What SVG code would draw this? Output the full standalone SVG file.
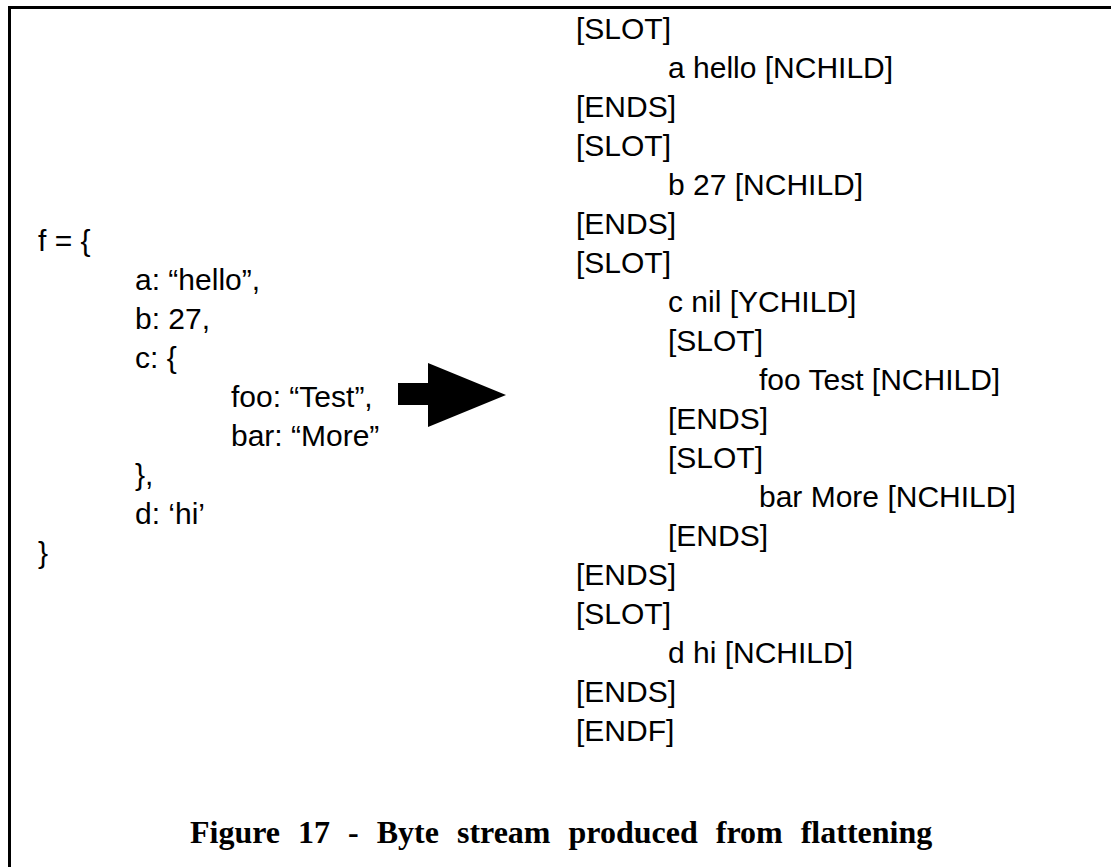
<svg xmlns="http://www.w3.org/2000/svg" width="1111" height="867" viewBox="0 0 1111 867">
  <style>
    .code { font-family: "Liberation Sans", Arial, sans-serif; font-size: 30px; fill: #000; }
    .cap { font-family: "Liberation Serif", "Times New Roman", serif; font-size: 32px; font-weight: bold; fill: #000; word-spacing: 10px; }
  </style>
  <rect id="frame" x="9.5" y="7.5" width="1130" height="890" fill="#fff" stroke="#000" stroke-width="3"/>
  <g id="source" class="code">
    <text x="38" y="251">f = {</text>
    <text x="135" y="290">a: “hello”,</text>
    <text x="135" y="329">b: 27,</text>
    <text x="135" y="368">c: {</text>
    <text x="231" y="407">foo: “Test”,</text>
    <text x="231" y="446">bar: “More”</text>
    <text x="135" y="485">},</text>
    <text x="135" y="524">d: ‘hi’</text>
    <text x="38" y="563">}</text>
  </g>
  <g id="connectors">
    <polygon points="398,383 428,383 428,363 506,395 428,427 428,405 398,405" fill="#000"/>
  </g>
  <g id="stream" class="code">
    <text x="576" y="39">[SLOT]</text>
    <text x="668" y="78">a hello [NCHILD]</text>
    <text x="576" y="117">[ENDS]</text>
    <text x="576" y="156">[SLOT]</text>
    <text x="668" y="195">b 27 [NCHILD]</text>
    <text x="576" y="234">[ENDS]</text>
    <text x="576" y="273">[SLOT]</text>
    <text x="668" y="312">c nil [YCHILD]</text>
    <text x="668" y="351">[SLOT]</text>
    <text x="759" y="390">foo Test [NCHILD]</text>
    <text x="668" y="429">[ENDS]</text>
    <text x="668" y="468">[SLOT]</text>
    <text x="759" y="507">bar More [NCHILD]</text>
    <text x="668" y="546">[ENDS]</text>
    <text x="576" y="585">[ENDS]</text>
    <text x="576" y="624">[SLOT]</text>
    <text x="668" y="663">d hi [NCHILD]</text>
    <text x="576" y="702">[ENDS]</text>
    <text x="576" y="741">[ENDF]</text>
  </g>
  <g id="caption">
    <text class="cap" x="190" y="843">Figure 17 - Byte stream produced from flattening</text>
  </g>
</svg>
